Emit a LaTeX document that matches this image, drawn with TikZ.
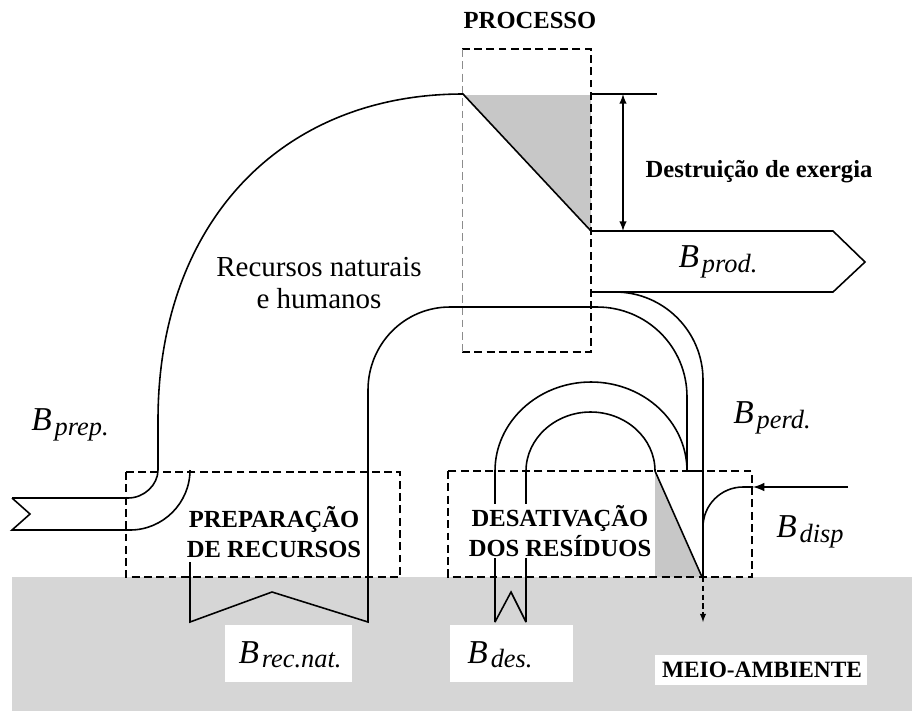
\documentclass[tikz,border=0pt]{standalone}
\usepackage{fontspec}
\setmainfont{Liberation Serif}
\tikzset{
	fluxo/.style={line width=.9pt},
	caixa/.style={line width=.9pt,dash pattern=on 4.5pt off 2.5pt},
	rotulo/.style={font=\fontsize{14}{17}\selectfont\bfseries,align=center,inner sep=1pt},
	sombra/.style={fill=black!22},
}
\newcommand{\bfluxo}[1]{{\fontsize{19}{19}\selectfont\itshape B}\,\raisebox{-.55ex}{\fontsize{15}{15}\selectfont\itshape #1}}
\begin{document}
\begin{tikzpicture}[>=latex,x=.02cm,y=-.02cm]
	\useasboundingbox (0,0) rectangle (912,711);
	% meio-ambiente
	\fill[black!16] (12,577) rectangle (912,711);
	\fill[white] (225,625) rectangle (352,682);
	\fill[white] (450,625) rectangle (573,682);
	\fill[white] (655,655) rectangle (867,685);
	% perdas internas
	\fill[sombra] (463,95) -- (591,95) -- (591,231) -- cycle;
	\fill[sombra] (655,471) -- (702,577) -- (655,577) -- cycle;
	% caixas
	\draw[caixa] (462,352) -- (591,352) -- (591,49) -- (462,49);
	\draw[caixa,black!45,line width=.5pt] (462,49) -- (462,352);
	\draw[caixa] (126,472) rectangle (400,577);
	\draw[caixa] (448,471) rectangle (752,577);
	% recursos naturais e humanos -> processo -> produto
	\draw[fluxo] (12,498) -- (30,514) -- (12,530) -- (130,530) .. controls (163,530) and (190,503) .. (190,470);
	\draw[fluxo] (12,498) -- (128,498) .. controls (144.5,498) and (158,484.5) .. (158,470) -- (158,420)
		.. controls (158,224) and (280,94) .. (463,94) -- (591,231) -- (833,231) -- (865,262) -- (833,292) -- (591,292);
	% destruicao
	\draw[fluxo] (591,94) -- (657,94);
	\draw[<->,fluxo] (623,94) -- (623,231);
	% perdas
	\draw[fluxo] (615,292) .. controls (663.6,292) and (703,331.4) .. (703,380) -- (703,577);
	\draw[->,line width=.6pt,densely dashed] (703,577) -- (703,622);
	% recursos naturais
	\draw[fluxo] (190,562) -- (190,622) -- (272,592) -- (368,622) -- (368,390)
		.. controls (368,344.2) and (404.2,307) .. (450,307) -- (597,307)
		.. controls (646.7,307) and (687,346.7) .. (687,397) -- (687,471) -- (703,471);
	% desativacao
	\draw[fluxo] (495,622) -- (511,592) -- (526,622);
	\draw[fluxo] (495,622) -- (495,471) .. controls (495,422) and (538,382) .. (591,382)
		.. controls (644,382) and (687,422) .. (687,471);
	\draw[fluxo] (526,622) -- (526,471) .. controls (526,438.4) and (555.4,412) .. (590.5,412)
		.. controls (626.1,412) and (655,438.4) .. (655,471) -- (702,577);
	% disponivel
	\draw[->,line width=1.2pt] (848,487) -- (753,487);
	\draw[fluxo] (753,487) -- (743,487) .. controls (721,487) and (703,505) .. (703,527);
	% textos
	\node[rotulo] (processo) at (530,20) {PROCESSO};
	\node[rotulo] (destruicao) at (759,172) {Destruição de exergia};
	\node[rotulo,fill=white] (preparacao) at (274,532) {PREPARAÇÃO\\DE RECURSOS};
	\node[rotulo,fill=white] (desativacao) at (560,531) {DESATIVAÇÃO\\DOS RESÍDUOS};
	\node[rotulo,font=\fontsize{13.3}{16}\selectfont\bfseries] (meio) at (762,670) {MEIO-AMBIENTE};
	\node[font=\fontsize{16.5}{18}\selectfont,align=center] (recursos) at (319,283) {Recursos naturais\\e humanos};
	\node (bprep) at (70,425) {\bfluxo{prep.}};
	\node (bprod) at (718,262) {\bfluxo{prod.}};
	\node (bperd) at (772,418) {\bfluxo{perd.}};
	\node (bdisp) at (810,532) {\bfluxo{disp}};
	\node (brecnat) at (290,655) {\bfluxo{rec.nat.}};
	\node (bdes) at (500,655) {\bfluxo{des.}};
\end{tikzpicture}
\end{document}
